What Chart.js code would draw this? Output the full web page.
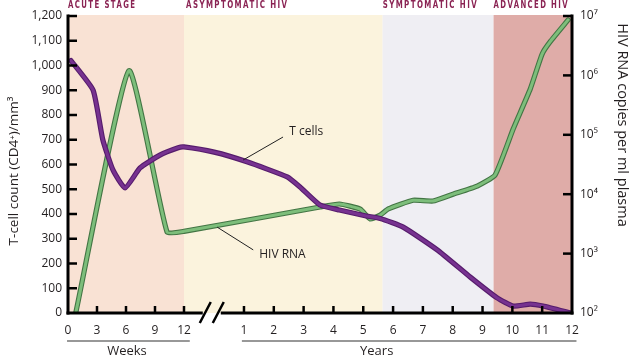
<!DOCTYPE html>
<html><head><meta charset="utf-8">
<script src="https://cdn.jsdelivr.net/npm/chart.js@4/dist/chart.umd.min.js"></script>
<style>html,body{margin:0;padding:0;background:#fff;}canvas{display:block;}</style>
</head><body>
<canvas id="c" width="634" height="356"></canvas>
<script>
// ---------- data ----------
const weekTicks = [0, 3, 6, 9, 12];
const yearTicks = [1, 2, 3, 4, 5, 6, 7, 8, 9, 10, 11, 12];
const tcellTicks = [0, 100, 200, 300, 400, 500, 600, 700, 800, 900, 1000, 1100, 1200];
const rnaTicks = [1e2, 1e3, 1e4, 1e5, 1e6, 1e7];

const stageNames = ['ACUTE STAGE', 'ASYMPTOMATIC HIV', 'SYMPTOMATIC HIV', 'ADVANCED HIV'];
const stageStartWeeks = [0, 12];        // acute, asymptomatic start (weeks)
const stageStartYears = [5.65, 9.37];   // symptomatic, advanced start (years)
const stageEndYear = 12;

// T cells (CD4+ per mm3)
const tcellWeeks  = [0.3, 2.6, 3.6, 4.65, 5.9, 7.45, 9.5, 11.4, 12];
const tcellWeekValues = [1020, 900, 700, 578, 505, 586, 638, 668, 671];
const tcellYears  = [0, 1.1, 2.45, 2.88, 3.55, 4.2, 5.1, 5.57, 6.34, 7.48, 8.59, 9.49, 10.03, 10.6, 11.03, 11.95];
const tcellYearValues = [650, 611, 550, 509, 436, 416, 392, 382, 347, 255, 145, 61, 28, 36, 28, 0];

// HIV RNA copies per ml plasma
const rnaWeeks = [0.8, 6.3, 10.25, 12];
const rnaWeekValues = [100, 1200000, 2300, 2370];
const rnaYears = [3.55, 4.2, 4.9, 5.23, 5.57, 5.84, 6.67, 7.34, 8.01, 8.82, 9.42, 10.03, 10.6, 11.0, 11.27, 11.87];
const rnaYearValues = [6100, 6840, 5600, 3830, 4470, 5640, 7900, 7680, 10000, 13700, 21000, 126000, 590000, 2300000, 3700000, 8600000];

// ---------- broken time axis (weeks, then years) ----------
const YEAR_ZERO = 15.12, YEAR_UNIT = 3.085;
const wk = w => w;
const yr = y => YEAR_ZERO + y * YEAR_UNIT;
const X_MAX = yr(12);

const xTickPos = weekTicks.map(wk).concat(yearTicks.map(yr));
const xTickLabels = weekTicks.map(String).concat(yearTicks.map(String));

const pts = (ws, wv, ys, yv) =>
  ws.map((w, i) => ({x: wk(w), y: wv[i]})).concat(ys.map((y, i) => ({x: yr(y), y: yv[i]})));
const tcellData = pts(tcellWeeks, tcellWeekValues, tcellYears, tcellYearValues);
const rnaData = pts(rnaWeeks, rnaWeekValues, rnaYears, rnaYearValues);

const SUP = {'0':'\u2070','1':'\u00B9','2':'\u00B2','3':'\u00B3','4':'\u2074','5':'\u2075','6':'\u2076','7':'\u2077','8':'\u2078','9':'\u2079'};
const FONT = '"Open Sans", "Noto Sans", "DejaVu Sans", sans-serif';
const TXT = '#231f20';
const HEADER_WIDTHS = [67, 101, 94, 74];

const decor = {
  id: 'decor',
  beforeDatasetsDraw(chart) {
    const {ctx, chartArea: a, scales: {x}} = chart;
    const bounds = [wk(stageStartWeeks[0]), wk(stageStartWeeks[1]), yr(stageStartYears[0]), yr(stageStartYears[1]), yr(stageEndYear)];
    const cols = ['#f9e2d4', '#fbf3dd', '#efeef3', '#dfaca8'];
    ctx.save();
    for (let i = 0; i < 4; i++) {
      const x0 = x.getPixelForValue(bounds[i]), x1 = x.getPixelForValue(bounds[i + 1]);
      ctx.fillStyle = cols[i];
      ctx.fillRect(x0, a.top - 1, x1 - x0, a.bottom - a.top + 1);
    }
    // stage headers (condensed, tracked caps)
    ctx.fillStyle = '#8a2353';
    ctx.font = 'bold 10px "DejaVu Sans", sans-serif';
    ctx.letterSpacing = '2px';
    ctx.textBaseline = 'middle';
    ctx.textAlign = 'left';
    for (let i = 0; i < 4; i++) {
      const x0 = x.getPixelForValue(bounds[i]) + (i === 1 ? 2 : 0);
      const w = ctx.measureText(stageNames[i]).width - 2;
      ctx.save();
      ctx.translate(x0, 5.5);
      ctx.scale(HEADER_WIDTHS[i] / w, 1);
      ctx.fillText(stageNames[i], 0, 0);
      ctx.restore();
    }
    ctx.restore();
  },
  afterDatasetsDraw(chart) {
    const {ctx, chartArea: a, scales: {x, y, y1}} = chart;
    ctx.save();
    ctx.strokeStyle = '#000';
    ctx.lineCap = 'butt';
    // left axis
    ctx.lineWidth = 3;
    ctx.beginPath(); ctx.moveTo(a.left, a.top - 1.5); ctx.lineTo(a.left, a.bottom + 1.5); ctx.stroke();
    ctx.lineWidth = 2.5;
    tcellTicks.forEach(v => {
      const py = y.getPixelForValue(v);
      if (v === 0) return;
      ctx.beginPath(); ctx.moveTo(a.left, py); ctx.lineTo(a.left + 9, py); ctx.stroke();
    });
    // right axis
    ctx.lineWidth = 3;
    ctx.beginPath(); ctx.moveTo(a.right, a.top - 1.5); ctx.lineTo(a.right, a.bottom + 1.5); ctx.stroke();
    ctx.lineWidth = 2.5;
    rnaTicks.forEach(v => {
      const py = y1.getPixelForValue(v);
      if (v === rnaTicks[0]) return;
      ctx.beginPath(); ctx.moveTo(a.right, py); ctx.lineTo(a.right - 9, py); ctx.stroke();
    });
    // bottom axis with break
    const bc = x.getPixelForValue(yr(-0.08));
    ctx.lineWidth = 3;
    ctx.beginPath();
    ctx.moveTo(a.left - 1.5, a.bottom); ctx.lineTo(bc - 9, a.bottom);
    ctx.moveTo(bc + 9, a.bottom); ctx.lineTo(a.right + 1.5, a.bottom);
    ctx.stroke();
    ctx.lineWidth = 2.5;
    ctx.beginPath();
    ctx.moveTo(bc - 12, a.bottom + 10); ctx.lineTo(bc - 1, a.bottom - 11);
    ctx.moveTo(bc + 1, a.bottom + 10); ctx.lineTo(bc + 12, a.bottom - 11);
    ctx.stroke();
    ctx.lineWidth = 2.5;
    xTickPos.forEach((v, i) => {
      if (i === 0 || i === xTickPos.length - 1) return;
      const px = x.getPixelForValue(v);
      ctx.beginPath(); ctx.moveTo(px, a.bottom); ctx.lineTo(px, a.bottom - 7); ctx.stroke();
    });
    // period brackets
    ctx.lineWidth = 1.2;
    ctx.strokeStyle = '#333';
    ctx.beginPath();
    ctx.moveTo(x.getPixelForValue(wk(-0.1)), 341); ctx.lineTo(x.getPixelForValue(wk(12.6)), 341);
    ctx.moveTo(x.getPixelForValue(yr(0.93)), 341); ctx.lineTo(x.getPixelForValue(yr(12.15)), 341);
    ctx.stroke();
    ctx.fillStyle = TXT;
    ctx.font = '13px ' + FONT;
    ctx.textAlign = 'center'; ctx.textBaseline = 'middle';
    ctx.fillText('Weeks', x.getPixelForValue(wk(6.1)), 351);
    ctx.fillText('Years', x.getPixelForValue(yr(5.45)), 351);
    // axis titles
    ctx.save();
    ctx.font = '13.5px ' + FONT;
    ctx.translate(14, 171); ctx.rotate(-Math.PI / 2);
    ctx.fillText('T-cell count (CD4\u207A)/mm\u00B3', 0, 0);
    ctx.restore();
    ctx.save();
    ctx.font = '14.5px ' + FONT;
    ctx.translate(622, 125); ctx.rotate(Math.PI / 2);
    ctx.fillText('HIV RNA copies per ml plasma', 0, 0);
    ctx.restore();
    // series labels with leaders
    ctx.strokeStyle = '#222'; ctx.lineWidth = 1;
    ctx.beginPath();
    ctx.moveTo(x.getPixelForValue(yr(0.97)), y.getPixelForValue(618));
    ctx.lineTo(x.getPixelForValue(yr(2.31)), y.getPixelForValue(711));
    ctx.moveTo(x.getPixelForValue(yr(0.1)), y.getPixelForValue(347));
    ctx.lineTo(x.getPixelForValue(yr(1.31)), y.getPixelForValue(255));
    ctx.stroke();
    ctx.font = '12px ' + FONT;
    ctx.textAlign = 'left';
    ctx.fillText('T cells', x.getPixelForValue(yr(2.52)), y.getPixelForValue(731));
    ctx.fillText('HIV RNA', x.getPixelForValue(yr(1.51)), y.getPixelForValue(238));
    ctx.restore();
  }
};

const lineBase = {pointRadius: 0, fill: false, tension: 0.15, borderJoinStyle: 'round', borderCapStyle: 'round'};

new Chart(document.getElementById('c'), {
  type: 'line',
  data: {
    datasets: [
      Object.assign({label: 'T cells', data: tcellData, yAxisID: 'y', borderColor: '#773290', borderWidth: 3, order: 0}, lineBase),
      Object.assign({label: 'T cells edge', data: tcellData, yAxisID: 'y', borderColor: '#561c6c', borderWidth: 5.2, order: 1}, lineBase),
      Object.assign({label: 'HIV RNA', data: rnaData, yAxisID: 'y1', borderColor: '#7dbe7b', borderWidth: 3, order: 2}, lineBase),
      Object.assign({label: 'HIV RNA edge', data: rnaData, yAxisID: 'y1', borderColor: '#437544', borderWidth: 5.2, order: 3}, lineBase)
    ]
  },
  options: {
    responsive: false,
    animation: false,
    layout: {padding: {top: 16, left: 0, right: 0, bottom: 0}},
    plugins: {legend: {display: false}, tooltip: {enabled: false}},
    scales: {
      x: {
        type: 'linear', min: 0, max: X_MAX,
        grid: {display: false, drawTicks: false}, border: {display: false},
        afterBuildTicks: s => { s.ticks = xTickPos.map(v => ({value: v})); },
        afterFit: s => { s.height = 43; },
        ticks: {autoSkip: false, maxRotation: 0, padding: 10, color: TXT, font: {family: FONT, size: 12},
          callback: (v, i) => xTickLabels[i]}
      },
      y: {
        type: 'linear', position: 'left', min: 0, max: 1200,
        grid: {display: false, drawTicks: false}, border: {display: false},
        afterBuildTicks: s => { s.ticks = tcellTicks.map(v => ({value: v})); },
        afterFit: s => { s.width = 68; },
        ticks: {padding: 6, color: TXT, font: {family: FONT, size: 12},
          callback: v => v.toLocaleString('en-US')}
      },
      y1: {
        type: 'logarithmic', position: 'right', min: 100, max: 1e7,
        grid: {display: false, drawTicks: false}, border: {display: false},
        afterBuildTicks: s => { s.ticks = rnaTicks.map(v => ({value: v})); },
        afterFit: s => { s.width = 62; },
        ticks: {padding: 8, color: TXT, font: {family: FONT, size: 12},
          callback: v => '10' + String(Math.round(Math.log10(v))).split('').map(c => SUP[c]).join('')}
      }
    }
  },
  plugins: [decor]
});
</script>
</body></html>
